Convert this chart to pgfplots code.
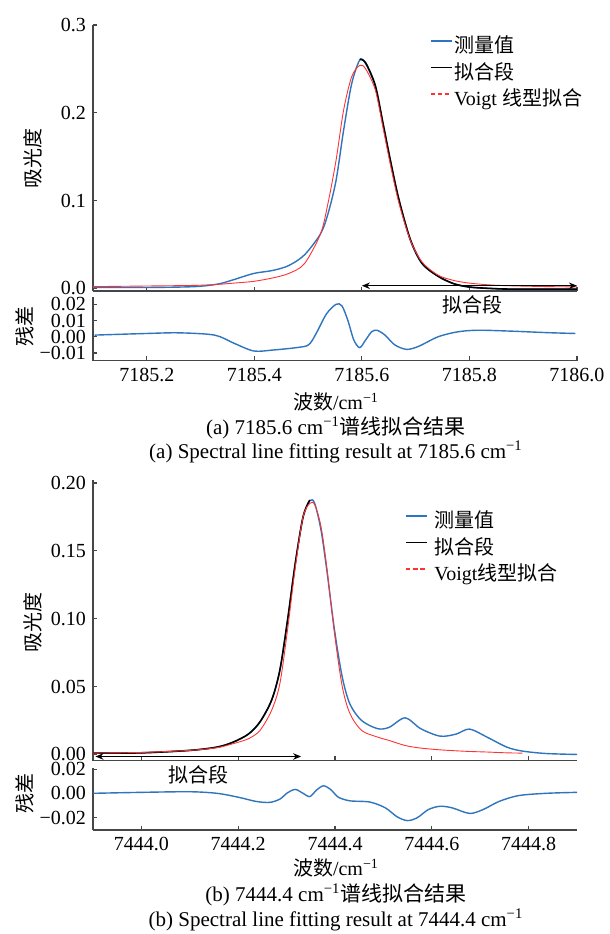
\documentclass[border=0pt]{standalone}
\usepackage{fontspec}
\setmainfont{Liberation Serif}
\newfontfamily\cjk{Noto Sans CJK SC}
\usepackage{pgfplots}
\pgfplotsset{compat=1.18}
\usetikzlibrary{arrows.meta}
\definecolor{mblue}{RGB}{46,117,190}
\definecolor{mred}{RGB}{255,50,50}
\definecolor{axgray}{RGB}{70,70,70}
\makeatletter
\newcommand\shiftx[2]{%
  \pgfutil@in@{Y}{#1}%
  \ifpgfutil@in@ \pgfmathfloattofixed{#1}\else\edef\pgfmathresult{#1}\fi
  \dimen@=\pgfmathresult pt\relax
  \advance\dimen@ by -#2pt\relax
  \edef\pgfmathresult{\strip@pt\dimen@}}
\makeatother
\pgfplotsset{
  base/.style={
    scale only axis, width=242pt,
    axis x line*=bottom, axis y line*=left,
    axis line style={-, axgray, line width=0.6pt},
    every tick/.style={axgray, line width=0.6pt},
    major tick length=2.2pt, tick align=inside,
    tick label style={font=\fontsize{10}{12}\selectfont},
    scaled y ticks=false, scaled x ticks=false,
    clip=false,
  },
  offa/.style={x coord trafo/.code={\shiftx{##1}{7185}}},
  offb/.style={x coord trafo/.code={\shiftx{##1}{7444}}},
  leg/.style={legend cell align=left,
    legend style={draw=none, fill=none, inner sep=0pt, outer sep=0pt,
      font=\fontsize{10}{12}\selectfont, row sep=0pt,
      nodes={inner sep=0.3pt, text height=8.6pt, text depth=4pt}},
    legend image code/.code={\draw[##1, line width=0.8pt] (0pt,3.5pt) -- (10.5pt,3.5pt);}},
  redleg/.style={legend image code/.code={\draw[draw=mred, line width=0.75pt, dash pattern=on 2.2pt off 1.4pt] (0pt,3.5pt) -- (10.5pt,3.5pt);}},
}
\begin{document}
\begin{tikzpicture}
\path[use as bounding box] (0pt,0pt) rectangle (305pt,-467pt);

% ---------------- panel (a) main
\begin{axis}[base, offa, leg, at={(46.5pt,-12.5pt)}, anchor=north west, height=133pt,
  xmin=7185.1, xmax=7186.0, ymin=-0.003, ymax=0.3,
  xtick={7185.2,7185.4,7185.6,7185.8,7186.0}, xticklabels={},
  ytick={0,0.1,0.2,0.3}, yticklabels={0.0,0.1,0.2,0.3},
  legend style={at={(rel axis cs:0.696,0.963)}, anchor=north west, column sep=0.5pt}]
\addplot[mblue, line width=0.7pt, smooth] coordinates {
(7185.100,0.0010) (7185.200,0.0010) (7185.289,0.0020) (7185.333,0.0050)
(7185.362,0.0100) (7185.399,0.0170) (7185.435,0.0205) (7185.464,0.0260)
(7185.493,0.0380) (7185.523,0.0620) (7185.537,0.0850) (7185.552,0.1230)
(7185.566,0.1800) (7185.581,0.2330) (7185.596,0.2600) (7185.607,0.2560)
(7185.625,0.2300) (7185.639,0.1880) (7185.654,0.1420) (7185.669,0.1000)
(7185.690,0.0550) (7185.712,0.0280) (7185.742,0.0137) (7185.771,0.0053)
(7185.800,0.0015) (7185.836,0.0000) (7185.873,-0.0008) (7185.946,-0.0008)
(7186.000,-0.0008)};
\addlegendentry{\cjk 测量值}
\addplot[black, line width=0.8pt, smooth] coordinates {
(7185.596,0.2610) (7185.607,0.2570)
(7185.625,0.2310) (7185.639,0.1890) (7185.654,0.1430) (7185.669,0.1010)
(7185.690,0.0560) (7185.712,0.0285) (7185.742,0.0137) (7185.771,0.0053)
(7185.800,0.0015) (7185.836,0.0000) (7185.873,-0.0008) (7185.946,-0.0008)
(7186.000,-0.0008)};
\addlegendentry{\cjk 拟合段}
\addplot[mred, line width=0.45pt, smooth, redleg] coordinates {
(7185.100,0.0020) (7185.200,0.0027) (7185.289,0.0034) (7185.333,0.0046)
(7185.362,0.0060) (7185.399,0.0080) (7185.435,0.0120) (7185.464,0.0170)
(7185.493,0.0280) (7185.523,0.0620) (7185.537,0.0970) (7185.552,0.1460)
(7185.566,0.2030) (7185.581,0.2410) (7185.596,0.2540) (7185.607,0.2500)
(7185.625,0.2260) (7185.639,0.1840) (7185.654,0.1380) (7185.669,0.0970)
(7185.690,0.0550) (7185.712,0.0300) (7185.742,0.0150) (7185.771,0.0090)
(7185.800,0.0060) (7185.836,0.0040) (7185.873,0.0030) (7185.946,0.0020)
(7186.000,0.0017)};
\addlegendentry{Voigt {\cjk 线型拟合}}
\draw[{Stealth[length=4pt,width=3.2pt]}-{Stealth[length=4pt,width=3.2pt]}, line width=0.6pt]
  (axis cs:7185.6,0.003) -- (axis cs:7186.0,0.003);
\end{axis}

% ---------------- panel (a) residual
\begin{axis}[base, offa, at={(46.5pt,-148.5pt)}, anchor=north west, height=31.85pt,
  xmin=7185.1, xmax=7186.0, ymin=-0.0148, ymax=0.0245,
  xtick={7185.2,7185.4,7185.6,7185.8,7186.0},
  xticklabels={7185.2,7185.4,7185.6,7185.8,7186.0},
  ytick={-0.01,0,0.01,0.02}, yticklabels={−0.01,0.00,0.01,0.02}]
\addplot[mblue, line width=0.7pt, smooth] coordinates {
(7185.103,0.0010) (7185.200,0.0020) (7185.260,0.0024) (7185.326,0.0010)
(7185.362,-0.0040) (7185.399,-0.0088) (7185.435,-0.0082) (7185.479,-0.0067)
(7185.501,-0.0050) (7185.515,0.0020) (7185.534,0.0140) (7185.552,0.0200)
(7185.563,0.0190) (7185.574,0.0100) (7185.585,-0.0020) (7185.596,-0.0067)
(7185.607,-0.0020) (7185.618,0.0030) (7185.628,0.0040) (7185.643,0.0010)
(7185.661,-0.0050) (7185.683,-0.0078) (7185.705,-0.0060) (7185.742,0.0000)
(7185.778,0.0030) (7185.815,0.0040) (7185.873,0.0035) (7185.946,0.0025)
(7185.997,0.0020)};
\node[font=\cjk] at (axis cs:7185.806,0.0196) {拟合段};
\end{axis}

% ---------------- panel (b) main
\begin{axis}[base, offb, leg, at={(46.5pt,-240pt)}, anchor=north west, height=140.35pt,
  xmin=7443.9, xmax=7444.9, ymin=-0.0046, ymax=0.2022,
  xtick={7444.0,7444.2,7444.4,7444.6,7444.8}, xticklabels={},
  ytick={0,0.05,0.1,0.15,0.2}, yticklabels={0.00,0.05,0.10,0.15,0.20},
  legend style={at={(rel axis cs:0.645,0.893)}, anchor=north west, column sep=3pt}]
\addplot[mblue, line width=0.7pt, smooth] coordinates {
(7443.900,0.0010) (7444.000,0.0012) (7444.100,0.0030) (7444.156,0.0054)
(7444.189,0.0090) (7444.221,0.0150) (7444.245,0.0240) (7444.269,0.0400)
(7444.286,0.0620) (7444.302,0.0990) (7444.318,0.1410) (7444.334,0.1750)
(7444.348,0.1870) (7444.358,0.1850) (7444.371,0.1655) (7444.383,0.1360)
(7444.399,0.0916) (7444.415,0.0570) (7444.431,0.0370) (7444.455,0.0250)
(7444.488,0.0190) (7444.512,0.0200) (7444.545,0.0270) (7444.577,0.0190)
(7444.617,0.0135) (7444.650,0.0150) (7444.678,0.0187) (7444.714,0.0128)
(7444.755,0.0054) (7444.787,0.0025) (7444.836,0.0007) (7444.900,0.0000)};
\addlegendentry{\cjk 测量值}
\addplot[black, line width=0.8pt, smooth] coordinates {
(7443.900,0.0010) (7444.000,0.0012) (7444.100,0.0030) (7444.156,0.0054)
(7444.189,0.0090) (7444.221,0.0150) (7444.245,0.0240) (7444.269,0.0400)
(7444.286,0.0620) (7444.302,0.0990) (7444.318,0.1410) (7444.334,0.1750)
(7444.348,0.1875)};
\addlegendentry{\cjk 拟合段}
\addplot[mred, line width=0.45pt, smooth, redleg] coordinates {
(7443.900,0.0010) (7444.000,0.0015) (7444.100,0.0030) (7444.156,0.0050)
(7444.189,0.0079) (7444.221,0.0116) (7444.245,0.0177) (7444.269,0.0325)
(7444.286,0.0520) (7444.302,0.0920) (7444.318,0.1380) (7444.334,0.1750)
(7444.348,0.1850) (7444.358,0.1840) (7444.371,0.1680) (7444.383,0.1380)
(7444.399,0.0890) (7444.415,0.0500) (7444.431,0.0300) (7444.455,0.0177)
(7444.488,0.0128) (7444.512,0.0103) (7444.545,0.0066) (7444.577,0.0047)
(7444.617,0.0034) (7444.650,0.0027) (7444.678,0.0022) (7444.714,0.0018)
(7444.755,0.0012) (7444.787,0.0010)};
\addlegendentry{Voigt{\cjk 线型拟合}}
\draw[{Stealth[length=4pt,width=3.2pt]}-{Stealth[length=4pt,width=3.2pt]}, line width=0.6pt]
  (axis cs:7443.905,-0.0015) -- (axis cs:7444.33,-0.0015);
\end{axis}

% ---------------- panel (b) residual
\begin{axis}[base, offb, at={(46.5pt,-384pt)}, anchor=north west, height=31pt,
  xmin=7443.9, xmax=7444.9, ymin=-0.0303, ymax=0.0209,
  xtick={7444.0,7444.2,7444.4,7444.6,7444.8},
  xticklabels={7444.0,7444.2,7444.4,7444.6,7444.8},
  ytick={-0.02,0,0.02}, yticklabels={−0.02,0.00,0.02}]
\addplot[mblue, line width=0.7pt, smooth] coordinates {
(7443.900,0.0000) (7444.000,0.0008) (7444.100,0.0013) (7444.156,0.0000)
(7444.200,-0.0032) (7444.237,-0.0067) (7444.265,-0.0075) (7444.286,-0.0048)
(7444.302,0.0005) (7444.318,0.0032) (7444.334,0.0000) (7444.348,-0.0027)
(7444.362,0.0027) (7444.376,0.0062) (7444.391,0.0032) (7444.407,-0.0032)
(7444.431,-0.0062) (7444.472,-0.0072) (7444.504,-0.0120) (7444.528,-0.0193)
(7444.549,-0.0225) (7444.569,-0.0204) (7444.593,-0.0134) (7444.617,-0.0107)
(7444.642,-0.0120) (7444.678,-0.0166) (7444.706,-0.0134) (7444.739,-0.0067)
(7444.779,-0.0019) (7444.836,0.0000) (7444.900,0.0008)};
\node[font=\cjk] at (axis cs:7444.117,0.0150) {拟合段};
\end{axis}

% ---------------- texts
\node[rotate=90, font=\cjk] at (16.5pt,-79pt) {吸光度};
\node[rotate=90, font=\cjk] at (12.5pt,-163pt) {残差};
\node at (168pt,-201pt) {{\cjk 波数}/cm\textsuperscript{−1}};
\node[font=\fontsize{10.5}{12}\selectfont] at (168pt,-214pt) {(a) 7185.6 cm\textsuperscript{−1}{\cjk 谱线拟合结果}};
\node[font=\fontsize{10.5}{12}\selectfont] at (168pt,-226pt) {(a) Spectral line fitting result at 7185.6 cm\textsuperscript{−1}};

\node[rotate=90, font=\cjk] at (16.5pt,-311pt) {吸光度};
\node[rotate=90, font=\cjk] at (12.5pt,-396.5pt) {残差};
\node at (168pt,-434pt) {{\cjk 波数}/cm\textsuperscript{−1}};
\node[font=\fontsize{10.5}{12}\selectfont] at (168pt,-447.5pt) {(b) 7444.4 cm\textsuperscript{−1}{\cjk 谱线拟合结果}};
\node[font=\fontsize{10.5}{12}\selectfont] at (168pt,-460pt) {(b) Spectral line fitting result at 7444.4 cm\textsuperscript{−1}};
\end{tikzpicture}
\end{document}
